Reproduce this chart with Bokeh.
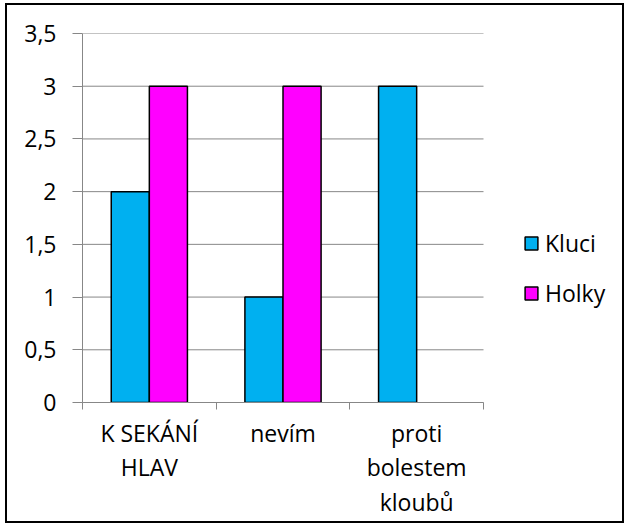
import numpy as np
from bokeh.plotting import figure
from bokeh.models import (ColumnDataSource, FixedTicker, Legend, LegendItem,
                          CDSView, BooleanFilter, Range1d, LinearAxis)
from bokeh.transform import dodge
from bokeh.embed import file_html
from bokeh.resources import INLINE

# ---- data ----
categories = ["K SEKÁNÍ\nHLAV", "nevím", "proti\nbolestem\nkloubů"]
kluci = [2, 1, 3]
holky = [3, 3, 0]
series_names = ["Kluci", "Holky"]
series_colors = ["#00B0F0", "#FF00FF"]
y_ticks = [0, 0.5, 1, 1.5, 2, 2.5, 3, 3.5]
y_tick_labels = ["0", "0,5", "1", "1,5", "2", "2,5", "3", "3,5"]

FONT = "Open Sans"
GRAY = "#878787"
FS = "23px"

# layout (pixels)
FRAME_W = 538      # frame extends to the right to host the legend
DATA_W = 401       # width of the category area
FRAME_H = 369
n = len(categories)
x_end = n * FRAME_W / DATA_W

pos = [i + 0.5 for i in range(n)]
src = ColumnDataSource(dict(x=pos, kluci=kluci, holky=holky))
grid_src = ColumnDataSource(dict(y=y_ticks, x0=[0] * len(y_ticks), x1=[n] * len(y_ticks)))

p = figure(frame_width=FRAME_W, frame_height=FRAME_H, output_backend="svg",
           toolbar_location=None, x_range=Range1d(0, x_end), y_range=Range1d(0, 3.5),
           min_border_left=75, min_border_right=2, min_border_top=28,
           min_border_bottom=119, x_axis_location=None)
p.margin = (3, 0, 0, 5)
p.outline_line_color = None
p.styles = {"border": "2px solid black"}
p.xgrid.visible = False
p.ygrid.visible = False

# horizontal gridlines limited to the category area
p.segment(x0="x0", x1="x1", y0="y", y1="y", source=grid_src, line_color=GRAY, line_width=1)

bw = 0.285
r1 = p.vbar(x=dodge("x", -bw / 2, range=p.x_range), top="kluci", width=bw, source=src,
            fill_color=series_colors[0], line_color="black", line_width=1.5)
view_h = CDSView(filter=BooleanFilter([v != 0 for v in holky]))
r2 = p.vbar(x=dodge("x", bw / 2, range=p.x_range), top="holky", width=bw, source=src,
            view=view_h, fill_color=series_colors[1], line_color="black", line_width=1.5)

# y axis
p.yaxis.ticker = FixedTicker(ticks=y_ticks)
p.yaxis.major_label_overrides = {t: l for t, l in zip(y_ticks, y_tick_labels)}
p.yaxis.axis_line_color = GRAY
p.yaxis.major_tick_line_color = GRAY
p.yaxis.major_tick_in = 0
p.yaxis.major_tick_out = 10
p.yaxis.minor_tick_line_color = None
p.yaxis.major_label_standoff = 16
p.yaxis.major_label_text_font = FONT
p.yaxis.major_label_text_font_size = FS
p.yaxis.major_label_text_color = "black"

# x axis: boundary ticks (no labels)
xa_ticks = LinearAxis(ticker=FixedTicker(ticks=list(range(n + 1))), bounds=(0, n),
                      axis_line_color=GRAY, major_tick_line_color=GRAY,
                      major_tick_in=0, major_tick_out=7, minor_tick_line_color=None,
                      major_label_text_font_size="0px", major_label_standoff=0,
                      major_label_overrides={i: "" for i in range(n + 1)})
p.add_layout(xa_ticks, "below")

# x axis: category labels at centres
xa_lab = LinearAxis(ticker=FixedTicker(ticks=pos),
                    major_label_overrides={x: c for x, c in zip(pos, categories)},
                    axis_line_color=None, major_tick_line_color=None,
                    major_tick_out=0, major_tick_in=0,
                    minor_tick_line_color=None, major_label_standoff=7,
                    major_label_text_font=FONT, major_label_text_font_size=FS,
                    major_label_text_color="black", major_label_text_line_height=1.08)
p.add_layout(xa_lab, "below")

legend = Legend(items=[LegendItem(label=series_names[0], renderers=[r1]),
                       LegendItem(label=series_names[1], renderers=[r2])],
                location=(441, 93), orientation="vertical")
legend.border_line_color = None
legend.background_fill_alpha = 0
legend.padding = 0
legend.margin = 0
legend.spacing = 18
legend.glyph_width = 16
legend.glyph_height = 16
legend.label_standoff = 6
legend.label_text_font = FONT
legend.label_text_font_size = FS
legend.label_text_color = "black"
legend.label_text_baseline = "middle"
p.add_layout(legend, "center")

open("out.html", "w").write(file_html(p, INLINE))
